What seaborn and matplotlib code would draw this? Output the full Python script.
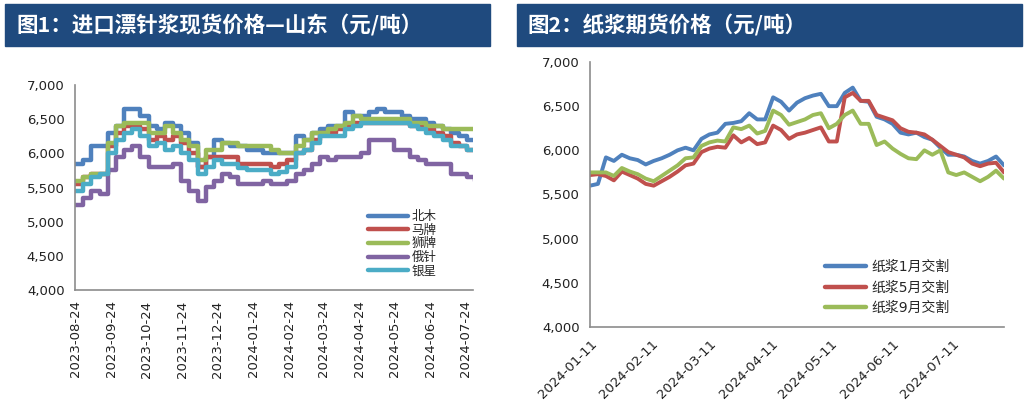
import pandas as pd
import numpy as np
import matplotlib
matplotlib.use("Agg")
import matplotlib.pyplot as plt
import matplotlib.dates as mdates
from matplotlib.patches import Rectangle
from matplotlib.ticker import FuncFormatter
import seaborn as sns

sns.set_style("white")
plt.rcParams["font.family"] = ["DejaVu Sans", "Noto Sans CJK SC"]

# ---------------- data: chart 1 (weekly, from 2023-08-24) ----------------
spot_start = "2023-08-24"
spot_names = ["北木", "马牌", "狮牌", "俄针", "银星"]
beimu = [5850, 5900, 6100, 6100, 6300, 6400, 6650, 6650, 6550, 6400,
         6350, 6450, 6400, 6300, 6150, 5800, 5950, 6200, 6150, 6100,
         6100, 6050, 6050, 6000, 6000, 6000, 6000, 6250, 6200, 6300,
         6350, 6400, 6400, 6600, 6550, 6550, 6600, 6650, 6600, 6600,
         6550, 6500, 6500, 6450, 6400, 6350, 6300, 6250, 6200, 6200]
mapai = [5550, 5650, 5700, 5700, 6100, 6300, 6400, 6400, 6350, 6200,
         6250, 6200, 6250, 6150, 6000, 5800, 5950, 5950, 5950, 5950,
         5850, 5850, 5850, 5850, 5800, 5850, 5900, 6000, 6050, 6200,
         6300, 6300, 6350, 6400, 6450, 6450, 6450, 6450, 6450, 6450,
         6450, 6400, 6400, 6350, 6300, 6250, 6150, 6100, 6050, 6050]
shipai = [5600, 5650, 5700, 5700, 6150, 6400, 6450, 6450, 6450, 6300,
          6300, 6400, 6300, 6200, 6100, 5900, 6050, 6050, 6150, 6150,
          6100, 6100, 6100, 6100, 6050, 6000, 6000, 6100, 6200, 6300,
          6300, 6350, 6400, 6450, 6550, 6500, 6500, 6500, 6500, 6500,
          6500, 6450, 6450, 6400, 6400, 6350, 6350, 6350, 6350, 6350]
ezhen = [5250, 5350, 5450, 5400, 5750, 5950, 6050, 6100, 5950, 5800,
         5800, 5800, 5850, 5600, 5450, 5300, 5500, 5600, 5700, 5650,
         5550, 5550, 5550, 5600, 5550, 5550, 5600, 5700, 5750, 5850,
         5950, 5900, 5950, 5950, 5950, 6000, 6200, 6200, 6200, 6050,
         6050, 5950, 5900, 5850, 5850, 5850, 5700, 5700, 5650, 5600]
yinxing = [5450, 5550, 5650, 5700, 6000, 6200, 6300, 6350, 6250, 6100,
           6150, 6050, 6100, 6000, 5900, 5700, 5800, 5900, 5850, 5850,
           5780, 5750, 5750, 5750, 5700, 5720, 5800, 6000, 6050, 6150,
           6250, 6250, 6250, 6350, 6400, 6450, 6450, 6450, 6450, 6450,
           6450, 6400, 6350, 6300, 6250, 6200, 6100, 6100, 6050, 6050]
spot_colors = ["#4F81BD", "#C0504D", "#9BBB59", "#8064A2", "#4BACC6"]

# ---------------- data: chart 2 (every 4 days, from 2024-01-11) ----------------
fut_start = "2024-01-11"
fut_names = ["纸浆1月交割", "纸浆5月交割", "纸浆9月交割"]
jan = [5600, 5620, 5920, 5880, 5950, 5910, 5890, 5840, 5880, 5910,
       5950, 6000, 6030, 6000, 6130, 6180, 6200, 6300, 6310, 6330,
       6420, 6350, 6350, 6600, 6550, 6450, 6540, 6590, 6620, 6640,
       6500, 6500, 6650, 6710, 6560, 6550, 6380, 6350, 6300, 6200,
       6180, 6200, 6150, 6120, 6030, 5950, 5950, 5930, 5880, 5850,
       5880, 5930, 5830]
may = [5720, 5730, 5710, 5660, 5760, 5720, 5680, 5620, 5600, 5650,
       5700, 5760, 5830, 5850, 5980, 6020, 6040, 6030, 6170, 6090,
       6140, 6070, 6090, 6280, 6230, 6130, 6180, 6200, 6230, 6260,
       6100, 6100, 6600, 6650, 6560, 6560, 6400, 6370, 6340, 6250,
       6210, 6200, 6180, 6120, 6050, 5980, 5950, 5920, 5850, 5820,
       5850, 5860, 5750]
sep = [5750, 5750, 5750, 5710, 5800, 5760, 5730, 5680, 5650, 5710,
       5770, 5830, 5910, 5920, 6050, 6090, 6110, 6100, 6260, 6240,
       6280, 6190, 6220, 6450, 6400, 6290, 6320, 6350, 6400, 6420,
       6250, 6300, 6400, 6450, 6300, 6300, 6060, 6100, 6020, 5960,
       5910, 5900, 6000, 5950, 6000, 5750, 5720, 5750, 5700, 5650,
       5700, 5770, 5680]
fut_colors = ["#4F81BD", "#C0504D", "#9BBB59"]

spot_dates = pd.date_range(spot_start, periods=len(beimu), freq="7D")
spot_df = pd.DataFrame({"date": spot_dates, "北木": beimu, "马牌": mapai,
                        "狮牌": shipai, "俄针": ezhen, "银星": yinxing})
spot_long = spot_df.melt(id_vars="date", var_name="品牌", value_name="价格")

fut_dates = pd.date_range(fut_start, periods=len(jan), freq="4D")
fut_df = pd.DataFrame({"date": fut_dates, "纸浆1月交割": jan,
                       "纸浆5月交割": may, "纸浆9月交割": sep})
fut_long = fut_df.melt(id_vars="date", var_name="合约", value_name="价格")

fig = plt.figure(figsize=(10.27, 4.19), dpi=100)
W, H = 1027, 419

# title banners
banner = "#1F4A7E"
fig.patches.append(Rectangle((5 / W, 1 - 46 / H), 485 / W, 42 / H,
                             transform=fig.transFigure, color=banner, zorder=0))
fig.patches.append(Rectangle((517 / W, 1 - 46 / H), 505 / W, 42 / H,
                             transform=fig.transFigure, color=banner, zorder=0))
fig.text(16 / W, 1 - 25 / H, "图1：进口漂针浆现货价格—山东（元/吨）", color="white",
         fontsize=15.5, fontweight="bold", va="center", family=["Noto Sans CJK SC"])
fig.text(527 / W, 1 - 25 / H, "图2：纸浆期货价格（元/吨）", color="white",
         fontsize=15.5, fontweight="bold", va="center", family=["Noto Sans CJK SC"])

thousands = FuncFormatter(lambda v, p: f"{int(v):,}")


def style_axes(ax):
    for s in ["top", "right"]:
        ax.spines[s].set_visible(False)
    for s in ["left", "bottom"]:
        ax.spines[s].set_color("#8C8C8C")
        ax.spines[s].set_linewidth(1.2)
    ax.tick_params(axis="both", colors="#8C8C8C", labelcolor="#222222",
                   direction="out", length=4, width=1.2, labelsize=9.5)
    ax.set_ylim(4000, 7000)
    ax.set_yticks(np.arange(4000, 7001, 500))
    ax.yaxis.set_major_formatter(thousands)
    ax.set_xlabel("")
    ax.set_ylabel("")


# ---------------- chart 1 ----------------
ax1 = fig.add_axes([75 / W, 1 - 290 / H, 398 / W, 205 / H])
sns.lineplot(data=spot_long, x="date", y="价格", hue="品牌", hue_order=spot_names,
             palette=spot_colors, linewidth=3.2, drawstyle="steps-post", ax=ax1)
style_axes(ax1)
ax1.set_xlim(pd.Timestamp("2023-08-24"), pd.Timestamp("2024-07-30"))
ax1.set_xticks(pd.date_range("2023-08-01", "2024-07-01", freq="MS") + pd.Timedelta(days=23))
ax1.xaxis.set_major_formatter(mdates.DateFormatter("%Y-%m-%d"))
plt.setp(ax1.get_xticklabels(), rotation=90)
leg1 = ax1.legend(loc="lower left", bbox_to_anchor=(0.72, 0.03), frameon=False,
                  fontsize=9, handlelength=3.2, labelspacing=0.05, handletextpad=0.3,
                  borderpad=0)
for line in leg1.get_lines():
    line.set_linewidth(3.2)

# ---------------- chart 2 ----------------
ax2 = fig.add_axes([590 / W, 1 - 327 / H, 414 / W, 265 / H])
sns.lineplot(data=fut_long, x="date", y="价格", hue="合约", hue_order=fut_names,
             palette=fut_colors, linewidth=2.8, ax=ax2)
style_axes(ax2)
ax2.set_xlim(pd.Timestamp("2024-01-11"), fut_dates[-1])
ax2.set_xticks(pd.date_range("2024-01-01", "2024-07-01", freq="MS") + pd.Timedelta(days=10))
ax2.xaxis.set_major_formatter(mdates.DateFormatter("%Y-%m-%d"))
plt.setp(ax2.get_xticklabels(), rotation=45, ha="right", rotation_mode="anchor")
leg2 = ax2.legend(loc="lower left", bbox_to_anchor=(0.55, 0.02), frameon=False,
                  fontsize=10, handlelength=3.0, labelspacing=0.45, handletextpad=0.4,
                  borderpad=0)
for line in leg2.get_lines():
    line.set_linewidth(3.2)

plt.savefig("out.png", dpi=100)
